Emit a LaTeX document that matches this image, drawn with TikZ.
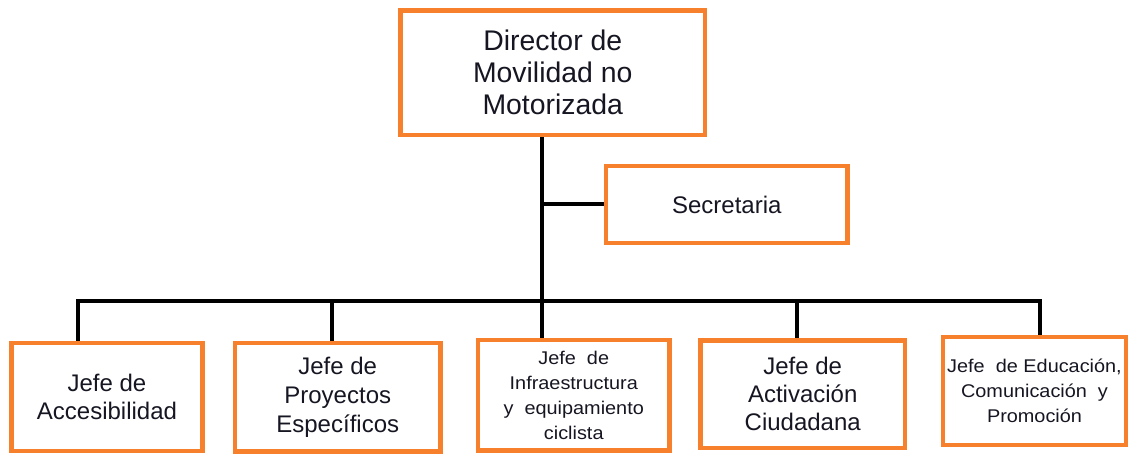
\documentclass[tikz,border=0pt]{standalone}
\usepackage{fontspec}
\setmainfont{Liberation Sans}
\newfontfamily\widefont[FakeStretch=1.08]{Liberation Sans}
\definecolor{boxorange}{RGB}{247,128,45}
\definecolor{inkblue}{RGB}{22,22,34}
\begin{document}
\begin{tikzpicture}[x=0.5pt, y=-0.5pt,
    orgbox/.style={draw=boxorange, line width=2.3pt, inner sep=0pt, align=center, text=inkblue},
    link/.style={line width=2pt, black, line join=miter}]
  \useasboundingbox (0,0) rectangle (1129,454);
  % director and secretary
  \node[orgbox, minimum width=152.25pt, minimum height=62.25pt, font=\fontsize{14.2}{16}\selectfont] (dir) at (552.75,72.75) {Director de\\Movilidad no\\Motorizada};
  \node[orgbox, minimum width=120.75pt, minimum height=38.5pt, font=\fontsize{12}{14}\selectfont] (sec) at (726.75,204.5) {Secretaria};
  % heads
  \node[orgbox, minimum width=95.5pt, minimum height=54pt, font=\fontsize{12}{14}\selectfont] (acc) at (107,397) {Jefe de\\Accesibilidad};
  \node[orgbox, minimum width=102.75pt, minimum height=54.25pt, font=\fontsize{12}{14.5}\selectfont] (proy) at (337.75,397.25) {Jefe de\\Proyectos\\Específicos};
  \node[orgbox, minimum width=95.75pt, minimum height=55.25pt, font=\widefont\fontsize{9.2}{12.5}\selectfont] (infra) at (573.75,395.25) {Jefe~ de\\Infraestructura\\y~ equipamiento\\ciclista};
  \node[orgbox, minimum width=102.25pt, minimum height=53.75pt, font=\fontsize{12}{14}\selectfont] (act) at (802.75,394.25) {Jefe de\\Activación\\Ciudadana};
  \node[orgbox, minimum width=91.5pt, minimum height=54pt, font=\widefont\fontsize{9.2}{12.5}\selectfont] (edu) at (1034.5,391) {Jefe~ de Educación,\\Comunicación~ y\\Promoción};
  % bus
  \coordinate (bus) at (542,301);
  \coordinate (d1) at (78,301); \coordinate (d2) at (332,301);
  \coordinate (d3) at (542,301); \coordinate (d4) at (797,301);
  \coordinate (d5) at (1040,301);
  \draw[link] (dir.south -| bus) -- (bus);
  \draw[link] (sec.west) -- (sec.west -| bus);
  \draw[link] (d1 |- acc.north) -- (d1) -- (d5) -- (d5 |- edu.north);
  \foreach \d/\b in {d2/proy, d3/infra, d4/act}
    \draw[link] (\d) -- (\d |- \b.north);
\end{tikzpicture}
\end{document}
